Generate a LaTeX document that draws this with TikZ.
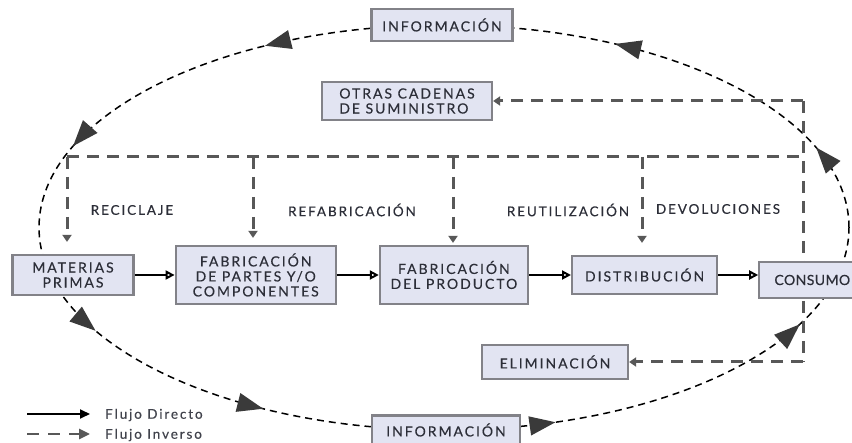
\documentclass[tikz,border=0pt]{standalone}
\usepackage{fontspec}
\setmainfont{Lato}
\newfontfamily\cajafont[LetterSpace=14,FakeBold=0.3]{Lato}
\newfontfamily\cajaestrecha[LetterSpace=3,FakeBold=0.3]{Lato}
\usetikzlibrary{positioning,calc,arrows.meta,decorations.markings,backgrounds,shadows}
\definecolor{relleno}{RGB}{226,228,242}
\definecolor{borde}{RGB}{130,130,136}
\definecolor{texto}{RGB}{44,46,56}
\definecolor{inverso}{RGB}{88,88,88}
\definecolor{punta}{RGB}{58,58,58}

\begin{document}
\begin{tikzpicture}[x=1pt,y=-1pt]
  \tikzset{
    node distance=40pt,
    caja/.style={rectangle,draw=borde,line width=2.2pt,fill=relleno,
      drop shadow={shadow xshift=1pt,shadow yshift=-1.5pt,opacity=.35},
      text=texto,font=\cajafont\fontsize{14}{15}\selectfont,align=center,inner sep=2pt},
    etiqueta/.style={text=texto,font=\cajafont\fontsize{13.5}{14}\selectfont},
    leyenda/.style={text=texto!90,font=\cajafont\fontsize{13.5}{14}\selectfont,anchor=west,inner sep=0pt},
    directo/.style={line width=2pt,-{Triangle[open,length=9pt,width=9pt]}},
    inverso/.style={draw=inverso,line width=3pt,dash pattern=on 12pt off 8pt,
      -{Triangle[length=7pt,width=9pt]}},
    ciclo/.style={line width=1.5pt,dash pattern=on 7pt off 5pt},
    flecha/.tip={Triangle[length=26pt,width=19pt,color=punta]}
  }
  \useasboundingbox (0,0) rectangle (852,443);

  \node[caja,minimum width=121pt,minimum height=40pt] (materias) at (73,275) {MATERIAS\\PRIMAS};
  \node[caja,minimum width=160pt,minimum height=58pt,right=of materias] (partes) {FABRICACIÓN\\DE PARTES Y/O\\COMPONENTES};
  \node[caja,minimum width=148pt,minimum height=58pt,right=42pt of partes] (producto) {FABRICACIÓN\\DEL PRODUCTO};
  \node[caja,minimum width=145pt,minimum height=38pt,right=42pt of producto] (distrib) {DISTRIBUCIÓN};
  \node[caja,minimum width=106pt,minimum height=36pt,right=of distrib,yshift=-5pt,
    font=\cajaestrecha\fontsize{14}{15}\selectfont] (consumo) {CONSUMO};
  \node[caja,minimum width=170pt,minimum height=38pt,align=left] (otras) at (407,101) {OTRAS CADENAS\\DE SUMINISTRO};
  \node[caja,minimum width=146pt,minimum height=34pt] (elim) at (555,362) {ELIMINACIÓN};
  \node[caja,minimum width=141pt,minimum height=32pt] (infoSup) at (442,25) {INFORMACIÓN};
  \node[caja,minimum width=148pt,minimum height=29pt] (infoInf) at (446,430) {INFORMACIÓN};

  \node[etiqueta] (recic) at (132,210) {RECICLAJE};
  \node[etiqueta] (refab) at (352,210) {REFABRICACIÓN};
  \node[etiqueta] (reuti) at (568,210) {REUTILIZACIÓN};
  \node[etiqueta] (devol) at (718,209) {DEVOLUCIONES};

  \coordinate (centro) at ($(infoSup)!.5!(infoInf)$);
  \coordinate (r1) at (67,157);
  \coordinate (r2) at (253,157);
  \coordinate (r3) at (453,157);
  \coordinate (r4) at (642,157);
  \coordinate (esq) at (803,157);
  \coordinate (arr) at (803,101);
  \coordinate (abj) at (803,362);

  \begin{scope}[on background layer]
    \draw[ciclo,postaction={decorate},decoration={markings,
        mark=at position .045 with {\arrow{flecha}},
        mark=at position .162 with {\arrow{flecha}},
        mark=at position .342 with {\arrow{flecha}},
        mark=at position .454 with {\arrow{flecha}},
        mark=at position .562 with {\arrow{flecha}},
        mark=at position .657 with {\arrow{flecha}},
        mark=at position .807 with {\arrow{flecha}},
        mark=at position .943 with {\arrow{flecha}}}]
      (centro) ellipse [x radius=405pt,y radius=202.5pt];
    \draw[inverso,-] (r1) -- (esq);
    \draw[inverso,-] (arr) -- (abj);
  \end{scope}

  \draw[inverso] (arr) -- (otras.east);
  \draw[inverso] (abj) -- (elim.east);
  \draw[inverso,shorten >=12pt] (r1) -- (r1 |- materias.north);
  \draw[inverso,shorten >=7pt] (r2) -- (r2 |- partes.north);
  \draw[inverso,shorten >=2pt] (r3) -- (r3 |- producto.north);
  \draw[inverso,shorten >=12pt] (r4) -- (r4 |- distrib.north);

  \draw[directo] (materias) -- (partes);
  \draw[directo] (partes) -- (producto);
  \draw[directo] (producto) -- (distrib);
  \draw[directo] (distrib) -- (distrib -| consumo.west);

  \coordinate (l1) at (27,414);
  \coordinate (l2) at (27,434);
  \node[leyenda] (dir) at (105,415) {Flujo Directo};
  \node[leyenda] (inv) at (105,435) {Flujo Inverso};
  \draw[line width=2pt,-{Triangle[length=10pt,width=9pt]}] (l1) -- ([xshift=-15pt]dir.west |- l1);
  \draw[inverso,dash pattern=on 12pt off 9pt,line width=2.6pt,-{Triangle[length=11pt,width=10pt]}] (l2) -- ([xshift=-15pt]inv.west |- l2);
\end{tikzpicture}
\end{document}
